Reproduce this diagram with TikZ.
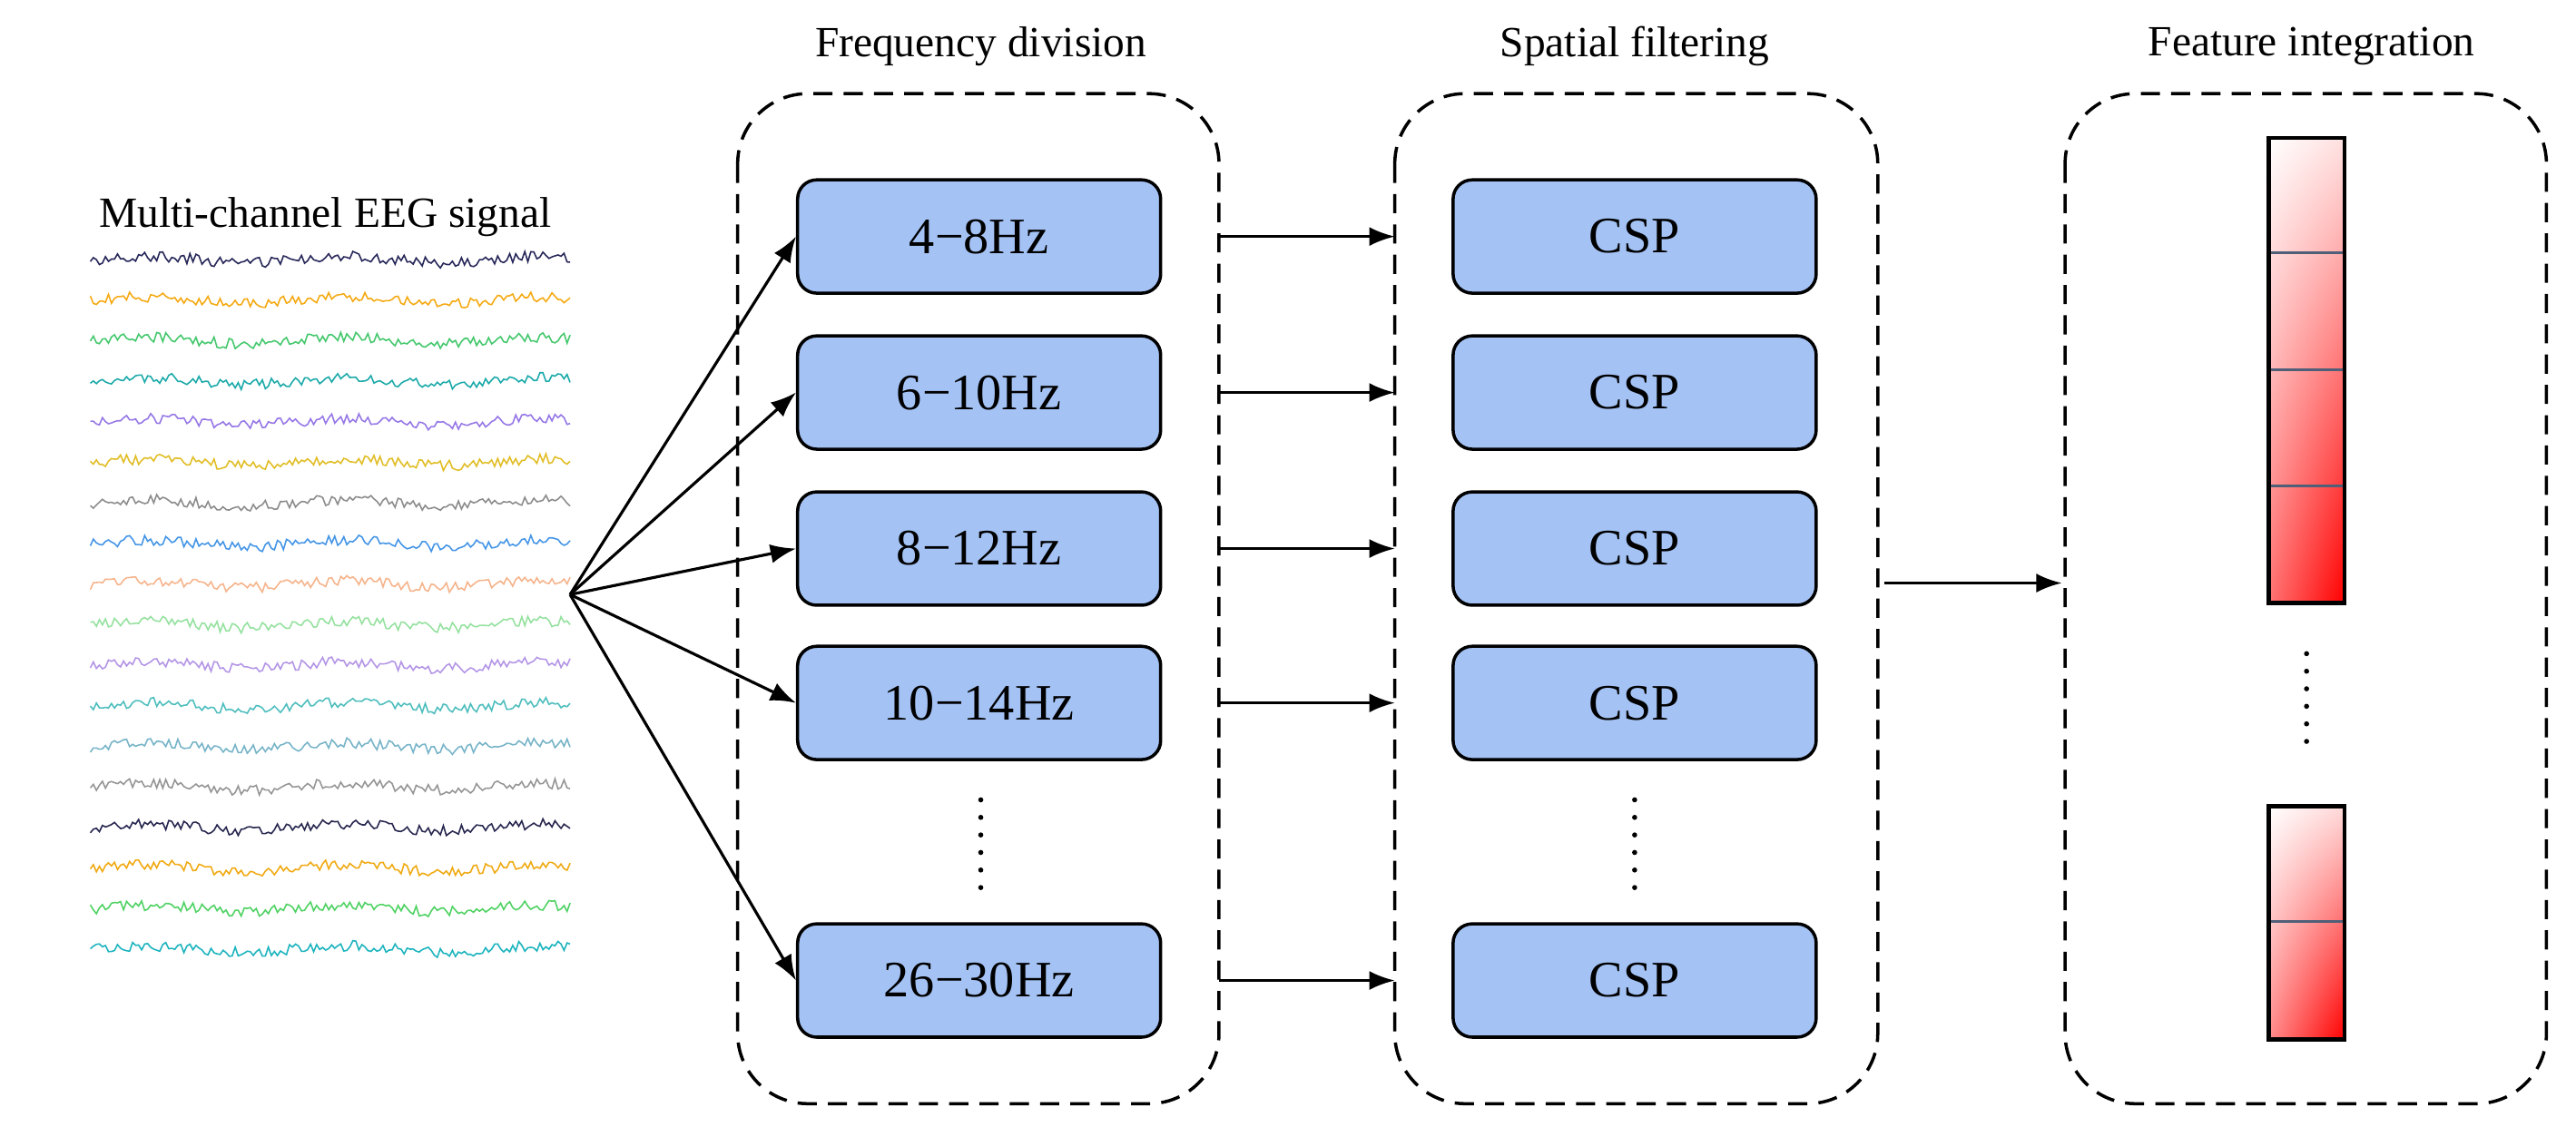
\documentclass[tikz,border=0pt]{standalone}
\usepackage{fontspec}
\setmainfont{Liberation Serif}
\usetikzlibrary{arrows.meta,shadings}
\definecolor{boxblue}{RGB}{164,194,244}
\definecolor{divc}{RGB}{80,95,120}
\definecolor{e1}{RGB}{40,40,90}
\definecolor{e2}{RGB}{245,170,20}
\definecolor{e3}{RGB}{70,200,110}
\definecolor{e4}{RGB}{30,170,170}
\definecolor{e5}{RGB}{150,120,230}
\definecolor{e6}{RGB}{225,190,40}
\definecolor{e7}{RGB}{140,140,140}
\definecolor{e8}{RGB}{70,150,230}
\definecolor{e9}{RGB}{245,180,140}
\definecolor{e10}{RGB}{150,225,160}
\definecolor{e11}{RGB}{180,150,230}
\definecolor{e12}{RGB}{80,190,190}
\definecolor{e13}{RGB}{120,180,200}
\definecolor{e14}{RGB}{150,150,150}
\definecolor{e15}{RGB}{40,40,80}
\definecolor{e16}{RGB}{240,170,20}
\definecolor{e17}{RGB}{80,210,100}
\definecolor{e18}{RGB}{30,180,190}
\begin{document}
\begin{tikzpicture}[x=0.0181cm,y=-0.0181cm,
  dbox/.style={draw,dash pattern=on 6pt off 3.5pt,line width=1pt,rounded corners=22pt},
  fbox/.style={draw,line width=1pt,fill=boxblue,rounded corners=6pt,minimum width=221*0.0181cm,minimum height=69*0.0181cm,font=\fontsize{16}{18}\selectfont},
  ttl/.style={font=\fontsize{13.5}{16}\selectfont},
  arr/.style={-{Latex[length=8pt,width=6pt]},line width=0.9pt},
  dots/.style={line width=1.6pt,dash pattern=on 0pt off 5.5pt,line cap=round}]
\useasboundingbox (0,0) rectangle (1568,686);
% titles
\node[ttl] (tfreq) at (597,28) {Frequency division};
\node[ttl] (tspat) at (995,28) {Spatial filtering};
\node[ttl] (tfeat) at (1407,28) {Feature integration};
\node[ttl] (teeg) at (198,132) {Multi-channel EEG signal};
% dashed groups
\draw[dbox] (449,57) rectangle (742,672);
\draw[dbox] (849,57) rectangle (1143,672);
\draw[dbox] (1257,57) rectangle (1550,672);
% EEG traces
\pgfmathsetseed{7}
\foreach \i in {1,...,18}{
  \pgfmathsetmacro\yc{158+(\i-1)*24.7}
  \draw[e\i,line width=0.45pt] plot[samples=160,domain=55:347] (\x,{\yc+3.2*rand+2*sin(\x*3)});
}
\coordinate (src) at (347,362);
% frequency boxes
\foreach \n/\y/\t in {f1/144/4\textminus8Hz,f2/239/6\textminus10Hz,f3/334/8\textminus12Hz,f4/428/10\textminus14Hz,f5/597/26\textminus30Hz}{
  \node[fbox] (\n) at (596,\y) {\t};
}
\foreach \n/\y in {c1/144,c2/239,c3/334,c4/428,c5/597}{
  \node[fbox] (\n) at (995,\y) {CSP};
}
\foreach \n in {f1,f2,f3,f4,f5}{ \draw[arr] (src) -- (\n.west); }
\foreach \y [count=\i] in {144,239,334,428,597}{
  \coordinate (a\i) at (742,\y);
  \coordinate (b\i) at (849,\y);
  \draw[arr] (a\i) -- (b\i);
}
\draw[dots] (597,487) -- (597,547);
\draw[dots] (995,487) -- (995,547);
% big arrow
\coordinate (g1) at (1147,355);
\coordinate (g2) at (1255,355);
\draw[arr] (g1) -- (g2);
% feature bars
\shade[upper left=white,upper right=red!12,lower left=red!55,lower right=red] (1381,84) rectangle (1427,367);
\foreach \y in {154,225,296}{\draw[divc,line width=0.8pt] (1381,\y) -- (1427,\y);}
\draw[line width=1.3pt] (1381,84) rectangle (1427,367);
\shade[upper left=white,upper right=red!15,lower left=red!45,lower right=red] (1381,491) rectangle (1427,633);
\draw[divc,line width=0.8pt] (1381,561) -- (1427,561);
\draw[line width=1.3pt] (1381,491) rectangle (1427,633);
\draw[dots] (1404,398) -- (1404,455);
\end{tikzpicture}
\end{document}
